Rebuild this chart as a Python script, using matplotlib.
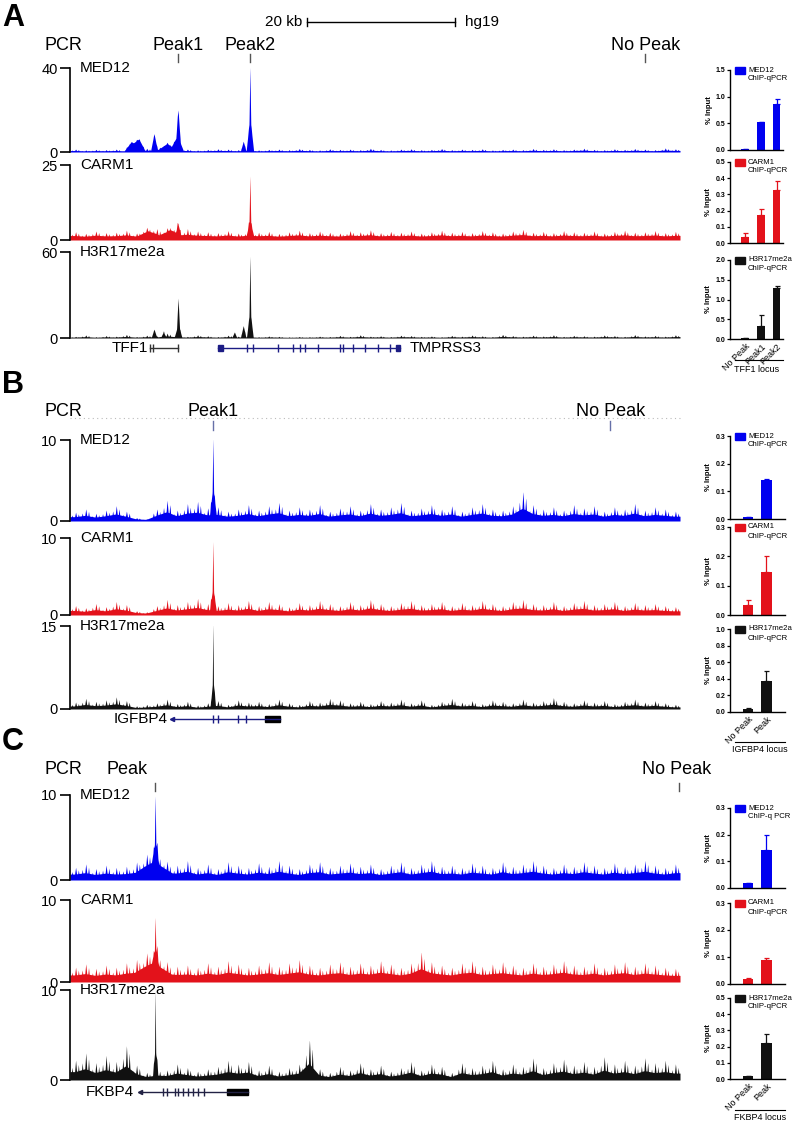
import matplotlib
matplotlib.use("Agg")
import matplotlib.pyplot as plt
import numpy as np
from matplotlib.patches import Rectangle

plt.rcParams['font.family'] = ['Liberation Sans', 'DejaVu Sans']

W, H = 794, 1125
SPAN_KB = 82.4          # width of each browser window in kb
TRACK_X0, TRACK_X1 = 70, 680

# ---- ChIP-seq track data: (centre kb, height, half width kb) + background grass
TRACK_NAMES = ["MED12", "CARM1", "H3R17me2a"]
A_YMAX = [40, 25, 60]
B_YMAX = [10, 10, 15]
C_YMAX = [10, 10, 10]

A_FLOOR = [0.2, 0.6, 0.1]
B_FLOOR = [0.15, 0.15, 0.05]
C_FLOOR = [0.15, 0.2, 0.05]

A_MED12_PEAKS = [(8.3, 4.5, 1.0), (9.3, 5.5, 0.8), (11.35, 8.0, 0.45), (13.1, 3.5, 1.4),
                 (14.6, 13.0, 0.3), (14.5, 7.0, 0.8), (23.4, 4.5, 0.35), (24.3, 24.0, 0.12),
                 (24.3, 16.0, 0.5)]
A_CARM1_PEAKS = [(10.5, 1.5, 1.5), (13.5, 2.0, 1.5), (14.6, 3.0, 0.35), (24.3, 15.0, 0.12),
                 (24.3, 5.0, 0.5)]
A_H3R17_PEAKS = [(11.35, 5.5, 0.35), (12.6, 3.0, 0.3), (14.6, 18.0, 0.2), (14.6, 9.0, 0.5),
                 (22.2, 3.5, 0.3), (23.4, 8.0, 0.35), (24.3, 38.0, 0.12), (24.3, 19.0, 0.45)]
B_MED12_PEAKS = [(19.3, 6.0, 0.1), (19.3, 3.5, 0.45)]
B_CARM1_PEAKS = [(19.3, 6.0, 0.1), (19.3, 3.0, 0.45)]
B_H3R17_PEAKS = [(19.3, 10.0, 0.08), (19.3, 5.0, 0.35)]
C_MED12_PEAKS = [(11.5, 5.5, 0.1), (11.5, 2.5, 0.5), (11.3, 1.2, 2.5)]
C_CARM1_PEAKS = [(11.5, 3.8, 0.1), (11.5, 2.0, 0.5), (11.2, 1.2, 2.5)]
C_H3R17_PEAKS = [(11.5, 6.5, 0.08), (11.5, 3.2, 0.35)]

A_MED12_BG = [0.9, 0.6, 0.8, 0.7, 0.9, 0.5, 0.8, 1.2, 1.0, 0.7, 1.1, 0.9, 0.6, 0.8, 1.0, 0.9, 0.7, 1.0, 0.6, 0.8,
              0.9, 0.7, 1.1, 0.8, 0.6, 1.0, 0.8, 0.9, 0.7, 1.2, 0.8, 0.6, 0.9, 1.0, 0.7, 0.8, 1.1, 0.7, 0.9, 0.8,
              1.0, 0.6, 0.8, 0.9, 0.7, 1.1, 0.8, 1.0, 0.7, 0.9, 1.2, 0.8, 0.7, 1.0, 0.8, 1.1, 0.9, 0.7, 1.3, 1.0]
A_CARM1_BG = [1.6, 1.2, 1.8, 1.4, 1.5, 2.0, 1.3, 1.7, 2.2, 1.5, 1.9, 2.4, 1.8, 1.6, 1.4, 1.9, 1.3, 1.8, 1.5, 1.7,
              1.2, 1.6, 2.0, 1.4, 1.8, 1.5, 1.3, 1.9, 1.6, 2.1, 1.4, 1.7, 1.5, 1.8, 1.3, 1.6, 2.0, 1.5, 1.7, 1.4,
              1.9, 1.6, 1.3, 1.8, 2.2, 1.5, 1.7, 1.4, 1.9, 1.6, 1.5, 1.8, 1.3, 1.7, 2.0, 1.5, 1.6, 1.9, 1.4, 1.7]
A_H3R17_BG = [0.8, 1.5, 0.6, 1.2, 0.9, 1.8, 0.7, 1.4, 1.0, 2.5, 1.3, 0.8, 1.6, 1.1, 0.7, 1.4, 0.9, 1.2, 0.6, 1.0,
              0.8, 0.5, 0.7, 0.6, 0.9, 0.7, 1.3, 0.8, 1.6, 0.9, 1.1, 0.7, 1.4, 1.2, 0.8, 1.0, 0.6, 1.3, 0.9, 1.5,
              1.1, 0.7, 1.8, 1.2, 0.9, 1.4, 1.0, 1.6, 0.8, 1.3, 1.1, 0.9, 1.5, 1.2, 0.8, 1.7, 1.0, 1.3, 0.9, 1.6]
B_MED12_BG = [0.7, 1.0, 0.6, 0.9, 1.3, 0.8, 0.2, 0.1, 1.0, 1.8, 0.9, 1.5, 1.7, 1.1, 1.2, 0.8, 1.0, 1.4, 0.9, 1.3,
              1.6, 0.9, 1.2, 1.0, 1.4, 0.8, 1.1, 1.3, 0.9, 1.5, 1.0, 1.2, 1.6, 0.9, 1.1, 1.4, 1.0, 1.3, 0.8, 1.2,
              1.5, 1.0, 0.9, 1.3, 2.6, 1.4, 1.0, 1.2, 0.9, 1.4, 1.1, 1.3, 0.8, 1.2, 1.0, 1.5, 0.9, 1.2, 1.0, 0.8]
B_CARM1_BG = [0.8, 0.6, 1.0, 0.7, 1.2, 0.9, 0.3, 0.2, 0.8, 1.4, 0.9, 1.2, 1.5, 1.0, 0.8, 1.1, 0.9, 1.3, 0.8, 1.2,
              1.0, 0.7, 1.1, 0.9, 1.3, 1.0, 0.8, 1.2, 0.9, 1.4, 1.0, 0.8, 1.1, 1.3, 0.9, 1.0, 1.2, 0.8, 1.1, 0.9,
              1.3, 1.0, 0.8, 1.2, 1.4, 1.0, 0.9, 1.2, 0.8, 1.1, 1.3, 0.9, 1.0, 1.2, 0.8, 1.1, 0.9, 1.0, 0.8, 0.7]
B_H3R17_BG = [0.9, 1.4, 1.0, 1.2, 1.6, 1.1, 0.4, 0.6, 0.8, 1.3, 0.7, 1.0, 0.5, 0.8, 1.1, 0.6, 1.2, 0.9, 1.0, 0.7,
              1.3, 0.8, 0.6, 1.1, 0.9, 1.4, 1.2, 0.8, 1.0, 0.7, 1.1, 0.9, 1.3, 0.8, 1.2, 0.6, 1.0, 1.4, 0.9, 1.1,
              0.7, 1.2, 1.0, 0.8, 1.3, 0.9, 1.1, 1.5, 1.0, 0.8, 1.2, 0.9, 1.1, 0.7, 1.0, 1.3, 0.9, 1.1, 0.8, 0.6]
C_MED12_BG = [1.0, 1.3, 0.9, 1.2, 1.0, 1.1, 1.4, 1.6, 1.5, 1.3, 1.2, 1.6, 1.0, 1.3, 0.9, 1.5, 1.2, 1.0, 1.4, 1.1,
              1.6, 1.2, 0.9, 1.3, 1.5, 1.0, 1.2, 1.4, 1.1, 1.3, 0.9, 1.2, 1.5, 1.0, 1.3, 1.6, 1.1, 1.2, 1.0, 1.4,
              1.2, 1.0, 1.5, 1.1, 1.3, 1.6, 1.2, 1.0, 1.3, 1.1, 1.5, 1.2, 1.0, 1.4, 1.1, 1.3, 1.6, 1.2, 1.0, 1.3]
C_CARM1_BG = [1.2, 1.5, 1.1, 1.4, 1.2, 1.6, 1.8, 1.9, 1.7, 1.5, 1.3, 1.4, 1.2, 1.6, 1.3, 1.8, 1.5, 1.2, 1.4, 1.7,
              1.3, 1.6, 1.9, 1.4, 1.2, 1.5, 1.7, 1.3, 1.6, 1.4, 1.8, 1.5, 1.2, 1.6, 2.6, 1.7, 1.4, 1.2, 1.6, 1.8,
              1.3, 1.5, 1.7, 1.4, 1.2, 1.6, 1.3, 1.5, 1.8, 1.4, 1.3, 1.6, 1.2, 1.5, 1.7, 1.3, 1.6, 1.4, 1.2, 1.1]
C_H3R17_BG = [1.6, 2.2, 1.4, 2.0, 1.5, 2.8, 1.2, 0.6, 0.9, 0.8, 1.3, 1.0, 0.7, 0.9, 1.1, 1.6, 1.3, 1.5, 0.8, 1.2,
              0.7, 1.0, 1.3, 3.3, 0.9, 0.6, 1.1, 0.8, 1.4, 0.9, 1.2, 0.7, 1.0, 1.5, 0.8, 1.3, 1.1, 0.6, 1.4, 1.0,
              1.2, 1.6, 0.9, 1.3, 1.1, 1.8, 1.0, 1.4, 1.7, 1.2, 1.5, 1.1, 1.9, 1.3, 1.6, 1.2, 1.8, 1.4, 1.6, 1.3]

# PCR amplicon sites (kb)
A_SITES = [14.6, 24.3, 77.7]
A_SITE_LABELS = ["Peak1", "Peak2", "No Peak"]
B_SITES = [19.3, 73.0]
B_SITE_LABELS = ["Peak1", "No Peak"]
C_SITES = [11.5, 82.3]
C_SITE_LABELS = ["Peak", "No Peak"]

# gene models (kb)
TFF1_SPAN = (10.8, 14.6)
TFF1_EXONS = [10.8, 11.2, 14.6]
TMPRSS3_SPAN = (20.0, 44.6)
TMPRSS3_EXONS = [23.9, 24.7, 28.1, 30.1, 31.1, 31.8, 33.5, 36.5, 36.9, 38.2, 39.9, 41.6, 43.2]
IGFBP4_SPAN = (13.8, 28.4)
IGFBP4_THICK = (26.4, 28.4)
IGFBP4_EXONS = [19.3, 20.0, 22.7, 23.8]
FKBP4_SPAN = (9.5, 24.1)
FKBP4_THICK = (21.2, 24.1)
FKBP4_EXONS = [12.6, 13.1, 14.2, 14.6, 15.3, 15.9, 16.6, 17.3, 18.1]

# ---- ChIP-qPCR bars (% input, mean and SEM)
A_LOCI = ["No Peak", "Peak1", "Peak2"]
A_MED12_PCT = [0.01, 0.52, 0.87]
A_MED12_ERR = [0.003, 0.01, 0.08]
A_CARM1_PCT = [0.04, 0.17, 0.325]
A_CARM1_ERR = [0.02, 0.04, 0.06]
A_H3R17_PCT = [0.02, 0.33, 1.28]
A_H3R17_ERR = [0.01, 0.28, 0.05]

B_LOCI = ["No Peak", "Peak"]
B_MED12_PCT = [0.006, 0.14]
B_MED12_ERR = [0.001, 0.003]
B_CARM1_PCT = [0.035, 0.148]
B_CARM1_ERR = [0.015, 0.052]
B_H3R17_PCT = [0.04, 0.37]
B_H3R17_ERR = [0.005, 0.13]

C_LOCI = ["No Peak", "Peak"]
C_MED12_PCT = [0.017, 0.142]
C_MED12_ERR = [0.002, 0.058]
C_CARM1_PCT = [0.02, 0.088]
C_CARM1_ERR = [0.003, 0.007]
C_H3R17_PCT = [0.018, 0.222]
C_H3R17_ERR = [0.002, 0.055]

BLUE, RED, BLACK = '#0000f0', '#e3121b', '#111111'
NAVY = '#1c1c84'

fig = plt.figure(figsize=(W / 100, H / 100), dpi=100)
X_KB = np.linspace(0, SPAN_KB, 6000)


def px_axes(x0, y0, x1, y1):
    return fig.add_axes([x0 / W, 1 - y1 / H, (x1 - x0) / W, (y1 - y0) / H])


def ftext(x, y, s, **kw):
    fig.text(x / W, 1 - y / H, s, **kw)


def fline(xs, ys, **kw):
    fig.add_artist(plt.Line2D([x / W for x in xs], [1 - y / H for y in ys], **kw))


def kb2px(kb):
    return TRACK_X0 + kb / SPAN_KB * (TRACK_X1 - TRACK_X0)


def tri(c, h, hw):
    return np.clip(h * (1 - np.abs(X_KB - c) / hw), 0, None)


def signal(floor, bg, peaks):
    # background: a ridge through the bin levels with a tuft of spikes in each bin
    step = SPAN_KB / len(bg)
    centers = (np.arange(len(bg)) + 0.5) * step
    grass = np.interp(X_KB, centers, 0.55 * np.asarray(bg))
    for c, h in zip(centers, bg):
        grass = np.maximum(grass, tri(c - 0.3 * step, 0.85 * h, 0.14 * step))
        grass = np.maximum(grass, tri(c + 0.05 * step, 1.35 * h, 0.16 * step))
        grass = np.maximum(grass, tri(c + 0.32 * step, 1.05 * h, 0.13 * step))
    y = floor + grass
    for c, h, hw in peaks:
        y = y + tri(c, h, hw)
    return y


def draw_track(top, bottom, name, ymax, floor, bg, peaks, color):
    ax = px_axes(TRACK_X0, top, TRACK_X1, bottom)
    ax.fill_between(X_KB, 0, signal(floor, bg, peaks), color=color, lw=0)
    ax.axhline(0, color=color, lw=1)
    ax.set_xlim(0, SPAN_KB)
    ax.set_ylim(0, ymax)
    for s in ['top', 'right', 'bottom']:
        ax.spines[s].set_visible(False)
    ax.spines['left'].set_linewidth(1.2)
    ax.set_xticks([])
    ax.set_yticks([0, ymax])
    ax.tick_params(axis='y', length=7, width=1.2, labelsize=10.5, pad=2)
    ax.text(1.35, ymax, name, va='center', ha='left', fontsize=11)
    return ax


def draw_sites(sites, labels, text_y, tick_y0, tick_y1, tick_color, label_shift=None):
    ftext(45, text_y, "PCR", fontsize=13, va='center', ha='left')
    for i, (kb, lab) in enumerate(zip(sites, labels)):
        x = kb2px(kb)
        shift = label_shift[i] if label_shift else 0
        ftext(x + shift, text_y, lab, fontsize=13, va='center', ha='center')
        fline([x, x], [tick_y0, tick_y1], color=tick_color, lw=1)


def gene_axes(yc):
    ax = px_axes(TRACK_X0, yc - 8, TRACK_X1, yc + 8)
    ax.set_xlim(0, SPAN_KB)
    ax.set_ylim(-1, 1)
    ax.axis('off')
    return ax


def bar_chart(box, loci, pct, err, color, ymax, ystep, leg_name, leg_assay, xlim, width, show_x):
    ax = px_axes(*box)
    x = np.arange(len(pct))
    ax.bar(x, pct, width=width, color=color, lw=0)
    ax.errorbar(x, pct, yerr=[np.zeros(len(err)), err], fmt='none', ecolor=color,
                elinewidth=0.9, capsize=1.8, capthick=0.9)
    ax.set_xlim(*xlim)
    ax.set_ylim(0, ymax)
    ticks = np.arange(0, ymax + ystep / 2, ystep)
    ax.set_yticks(ticks)
    ax.set_yticklabels([f"{v:.1f}" for v in ticks], fontsize=5, fontweight='bold')
    ax.tick_params(axis='y', length=2.5, width=0.9, pad=1)
    for s in ['top', 'right']:
        ax.spines[s].set_visible(False)
    ax.spines['left'].set_linewidth(1.0)
    ax.spines['bottom'].set_linewidth(1.0)
    ax.set_ylabel("% Input", fontsize=5.5, fontweight='bold', labelpad=2)
    if show_x:
        ax.set_xticks(x)
        ax.set_xticklabels(loci, rotation=45, ha='right', rotation_mode='anchor', fontsize=6.5)
        ax.tick_params(axis='x', length=0, pad=2)
    else:
        ax.set_xticks([])
    x0, y0 = box[0], box[1]
    fig.add_artist(Rectangle(((x0 + 5) / W, 1 - (y0 + 4) / H), 10 / W, 7 / H,
                             color=color, transform=fig.transFigure))
    ftext(x0 + 18, y0, leg_name, fontsize=5.6, va='center', ha='left')
    ftext(x0 + 18, y0 + 9, leg_assay, fontsize=5.6, va='center', ha='left')
    return ax


# ================= Panel A =================
ftext(13, 18, "A", fontsize=22, fontweight='bold', va='center', ha='center')
ftext(302, 22, "20 kb", fontsize=11, va='center', ha='right')
fline([307, 455], [22, 22], color='black', lw=1)
fline([307, 307], [18, 26], color='black', lw=1)
fline([455, 455], [18, 26], color='black', lw=1)
ftext(465, 22, "hg19", fontsize=11, va='center', ha='left')
draw_sites(A_SITES, A_SITE_LABELS, 45, 54, 62, '#555555')

a_boxes = [(68, 152), (165, 240), (252, 338)]
a_data = [(A_MED12_BG, A_MED12_PEAKS, BLUE), (A_CARM1_BG, A_CARM1_PEAKS, RED),
          (A_H3R17_BG, A_H3R17_PEAKS, BLACK)]
for (t, b), name, ymax, fl, (bg, pk, col) in zip(a_boxes, TRACK_NAMES, A_YMAX, A_FLOOR, a_data):
    draw_track(t, b, name, ymax, fl, bg, pk, col)

g = gene_axes(348)
g.plot(TFF1_SPAN, [0, 0], color='#333333', lw=1)
g.vlines(TFF1_EXONS, -0.55, 0.55, color='#333333', lw=1)
g.text(TFF1_SPAN[0] - 0.3, 0, "TFF1", fontsize=11, ha='right', va='center')
g.plot(TMPRSS3_SPAN, [0, 0], color=NAVY, lw=1)
g.vlines(TMPRSS3_EXONS, -0.5, 0.5, color=NAVY, lw=1)
g.add_patch(Rectangle((TMPRSS3_SPAN[0], -0.35), 0.6, 0.7, color=NAVY))
g.add_patch(Rectangle((TMPRSS3_SPAN[1] - 0.5, -0.35), 0.5, 0.7, color=NAVY))
g.text(TMPRSS3_SPAN[1] + 1.3, 0, "TMPRSS3", fontsize=11, ha='left', va='center')

bar_chart((730, 70, 783, 150), A_LOCI, A_MED12_PCT, A_MED12_ERR, BLUE, 1.5, 0.5,
          "MED12", "ChIP-qPCR", (-0.96, 2.4), 0.48, False)
bar_chart((730, 162, 783, 243), A_LOCI, A_CARM1_PCT, A_CARM1_ERR, RED, 0.5, 0.1,
          "CARM1", "ChIP-qPCR", (-0.96, 2.4), 0.48, False)
bar_chart((730, 260, 783, 339), A_LOCI, A_H3R17_PCT, A_H3R17_ERR, BLACK, 2.0, 0.5,
          "H3R17me2a", "ChIP-qPCR", (-0.96, 2.4), 0.48, True)
fline([735, 783], [360, 360], color='black', lw=0.8)
ftext(757, 369, "TFF1 locus", fontsize=6.5, va='center', ha='center')

# ================= Panel B =================
ftext(13, 385, "B", fontsize=22, fontweight='bold', va='center', ha='center')
fline([TRACK_X0, TRACK_X1], [418, 418], color='#bbbbbb', lw=0.8, ls=(0, (1, 3)))
draw_sites(B_SITES, B_SITE_LABELS, 412, 421, 430, '#6670a8')

b_boxes = [(440, 521), (538, 615), (626, 709)]
b_data = [(B_MED12_BG, B_MED12_PEAKS, BLUE), (B_CARM1_BG, B_CARM1_PEAKS, RED),
          (B_H3R17_BG, B_H3R17_PEAKS, BLACK)]
for (t, b), name, ymax, fl, (bg, pk, col) in zip(b_boxes, TRACK_NAMES, B_YMAX, B_FLOOR, b_data):
    draw_track(t, b, name, ymax, fl, bg, pk, col)

g = gene_axes(719)
g.plot(IGFBP4_SPAN, [0, 0], color=NAVY, lw=1)
g.plot([IGFBP4_SPAN[0]], [0], marker='<', ms=3, color=NAVY)
g.vlines(IGFBP4_EXONS, -0.5, 0.5, color=NAVY, lw=1)
g.add_patch(Rectangle((IGFBP4_THICK[0], -0.4), IGFBP4_THICK[1] - IGFBP4_THICK[0], 0.8, color='black'))
g.text(IGFBP4_SPAN[0] - 0.6, 0, "IGFBP4", fontsize=11, ha='right', va='center')

bar_chart((730, 436, 785, 519), B_LOCI, B_MED12_PCT, B_MED12_ERR, BLUE, 0.3, 0.1,
          "MED12", "ChIP-qPCR", (-0.97, 2.0), 0.57, False)
bar_chart((730, 527, 785, 615), B_LOCI, B_CARM1_PCT, B_CARM1_ERR, RED, 0.3, 0.1,
          "CARM1", "ChIP-qPCR", (-0.97, 2.0), 0.57, False)
bar_chart((730, 629, 785, 712), B_LOCI, B_H3R17_PCT, B_H3R17_ERR, BLACK, 1.0, 0.2,
          "H3R17me2a", "ChIP-qPCR", (-0.97, 2.0), 0.57, True)
fline([735, 785], [742, 742], color='black', lw=0.8)
ftext(760, 750, "IGFBP4 locus", fontsize=6.5, va='center', ha='center')

# ================= Panel C =================
ftext(13, 742, "C", fontsize=22, fontweight='bold', va='center', ha='center')
draw_sites(C_SITES, C_SITE_LABELS, 770, 783, 791, '#555555', label_shift=[-28, -3])

c_boxes = [(795, 880), (900, 982), (990, 1080)]
c_data = [(C_MED12_BG, C_MED12_PEAKS, BLUE), (C_CARM1_BG, C_CARM1_PEAKS, RED),
          (C_H3R17_BG, C_H3R17_PEAKS, BLACK)]
for (t, b), name, ymax, fl, (bg, pk, col) in zip(c_boxes, TRACK_NAMES, C_YMAX, C_FLOOR, c_data):
    draw_track(t, b, name, ymax, fl, bg, pk, col)

g = gene_axes(1092)
g.plot(FKBP4_SPAN, [0, 0], color='#222244', lw=1)
g.plot([FKBP4_SPAN[0]], [0], marker='<', ms=3, color='#222244')
g.vlines(FKBP4_EXONS, -0.5, 0.5, color='#222244', lw=1)
g.add_patch(Rectangle((FKBP4_THICK[0], -0.4), FKBP4_THICK[1] - FKBP4_THICK[0], 0.8, color='black'))
g.text(FKBP4_SPAN[0] - 0.9, 0, "FKBP4", fontsize=11, ha='right', va='center')

bar_chart((730, 808, 785, 888), C_LOCI, C_MED12_PCT, C_MED12_ERR, BLUE, 0.3, 0.1,
          "MED12", "ChIP-q PCR", (-0.97, 2.0), 0.57, False)
bar_chart((730, 903, 785, 984), C_LOCI, C_CARM1_PCT, C_CARM1_ERR, RED, 0.3, 0.1,
          "CARM1", "ChIP-qPCR", (-0.97, 2.0), 0.57, False)
bar_chart((730, 998, 785, 1079), C_LOCI, C_H3R17_PCT, C_H3R17_ERR, BLACK, 0.5, 0.1,
          "H3R17me2a", "ChIP-qPCR", (-0.97, 2.0), 0.57, True)
fline([735, 785], [1110, 1110], color='black', lw=0.8)
ftext(760, 1118, "FKBP4 locus", fontsize=6.5, va='center', ha='center')

fig.savefig("out.png", dpi=100)
